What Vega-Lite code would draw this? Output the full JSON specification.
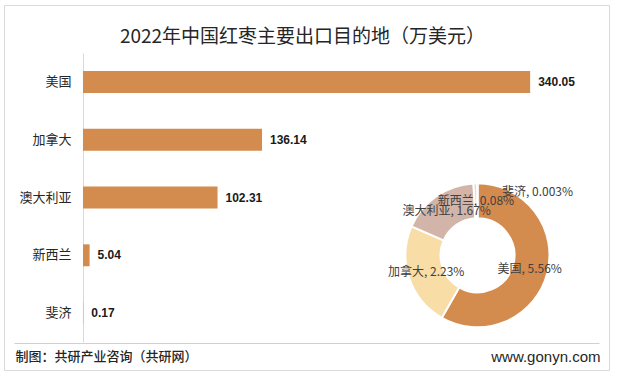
{
  "$schema": "https://vega.github.io/schema/vega-lite/v6.json",
  "autosize": {"type": "none"},
  "width": 605,
  "height": 365,
  "padding": {"left": 4, "top": 5, "right": 8, "bottom": 4},
  "background": "white",
  "config": {
    "view": {"stroke": "#D9D9D9", "strokeWidth": 1},
    "font": "Noto Sans CJK SC"
  },
  "title": {
    "text": "2022年中国红枣主要出口目的地（万美元）",
    "font": "Noto Sans CJK SC",
    "fontSize": 19,
    "fontWeight": "normal",
    "color": "#262626",
    "anchor": "middle",
    "frame": "group",
    "offset": -42,
    "dx": -4
  },
  "data": {
    "values": [
      {"country": "美国", "value": 340.05, "pct": "美国, 5.56%"},
      {"country": "加拿大", "value": 136.14, "pct": "加拿大, 2.23%"},
      {"country": "澳大利亚", "value": 102.31, "pct": "澳大利亚, 1.67%"},
      {"country": "新西兰", "value": 5.04, "pct": "新西兰, 0.08%"},
      {"country": "斐济", "value": 0.17, "pct": "斐济, 0.003%"}
    ]
  },
  "resolve": {"axis": {"y": "independent"}},
  "layer": [
    {
      "mark": {"type": "bar", "color": "#D48B4E"},
      "encoding": {
        "y": {
          "field": "country", "type": "nominal", "sort": null,
          "scale": {"range": [48, 337], "paddingInner": 0.62, "paddingOuter": 0.31},
          "axis": {
            "orient": "left", "offset": -79, "title": null, "ticks": false,
            "domainColor": "#D9D9D9", "labelFontSize": 13, "labelColor": "#262626",
            "labelPadding": 12, "labelFont": "Noto Sans CJK SC"
          }
        },
        "x": {
          "field": "value", "type": "quantitative",
          "scale": {"domain": [-51.7, 392.4], "range": [11, 595], "nice": false, "zero": false},
          "axis": {
            "orient": "bottom", "offset": -27, "labels": false, "ticks": false, "grid": false,
            "domain": true, "domainColor": "#D0D0D0",
            "title": "制图：共研产业咨询（共研网）",
            "titleFont": "Noto Sans CJK SC", "titleFontSize": 13, "titleFontWeight": 500,
            "titleColor": "#262626", "titleAnchor": "start", "titleAlign": "left",
            "titleBaseline": "middle", "titleX": 11, "titleY": 13
          }
        }
      }
    },
    {
      "mark": {"type": "text", "align": "left", "baseline": "middle", "dx": 8, "font": "Liberation Sans", "fontSize": 12, "fontWeight": "bold", "color": "#1a1a1a"},
      "encoding": {
        "y": {
          "field": "country", "type": "nominal", "sort": null,
          "axis": {
            "orient": "right", "labels": false, "ticks": false, "domain": false,
            "grid": true, "values": ["斐济"], "bandPosition": 1.862, "gridColor": "#D0D0D0", "gridWidth": 1,
            "title": "www.gonyn.com", "titleAngle": 0, "titleFont": "Liberation Sans",
            "titleFontSize": 15, "titleFontWeight": "normal", "titleColor": "#262626",
            "titleAlign": "right", "titleBaseline": "middle", "titleX": -9, "titleY": 351
          }
        },
        "x": {"field": "value", "type": "quantitative"},
        "text": {"field": "value", "type": "quantitative", "format": ".2f"}
      }
    },
    {
      "mark": {"type": "arc", "outerRadius": 72, "innerRadius": 37, "stroke": "white", "strokeWidth": 2},
      "encoding": {
        "x": {"datum": 300, "type": "quantitative"},
        "y": {"datum": "新西兰", "type": "nominal", "axis": null},
        "theta": {"field": "value", "type": "quantitative", "stack": true},
        "order": {"field": "value", "sort": "descending"},
        "color": {
          "field": "country", "type": "nominal", "legend": null,
          "scale": {"domain": ["美国", "加拿大", "澳大利亚", "新西兰", "斐济"], "range": ["#D48B4E", "#F8DDA6", "#D2B4A8", "#E3DCD6", "#BFBFBF"]}
        }
      }
    },
    {
      "transform": [{"filter": "datum.country !== '斐济'"}],
      "mark": {"type": "text", "radius": 54, "fontSize": 12, "color": "#404040", "font": "Noto Sans CJK SC"},
      "encoding": {
        "x": {"datum": 300, "type": "quantitative"},
        "y": {"datum": "新西兰", "type": "nominal", "axis": null},
        "theta": {"field": "value", "type": "quantitative", "stack": true},
        "order": {"field": "value", "sort": "descending"},
        "text": {"field": "pct"}
      }
    },
    {
      "transform": [{"filter": "datum.country === '斐济'"}],
      "mark": {"type": "text", "radius": 54, "dx": 60, "dy": -9, "fontSize": 12, "color": "#404040", "font": "Noto Sans CJK SC"},
      "encoding": {
        "x": {"datum": 300, "type": "quantitative"},
        "y": {"datum": "新西兰", "type": "nominal", "axis": null},
        "theta": {"datum": 0, "type": "quantitative", "scale": null},
        "text": {"field": "pct"}
      }
    }
  ]
}
